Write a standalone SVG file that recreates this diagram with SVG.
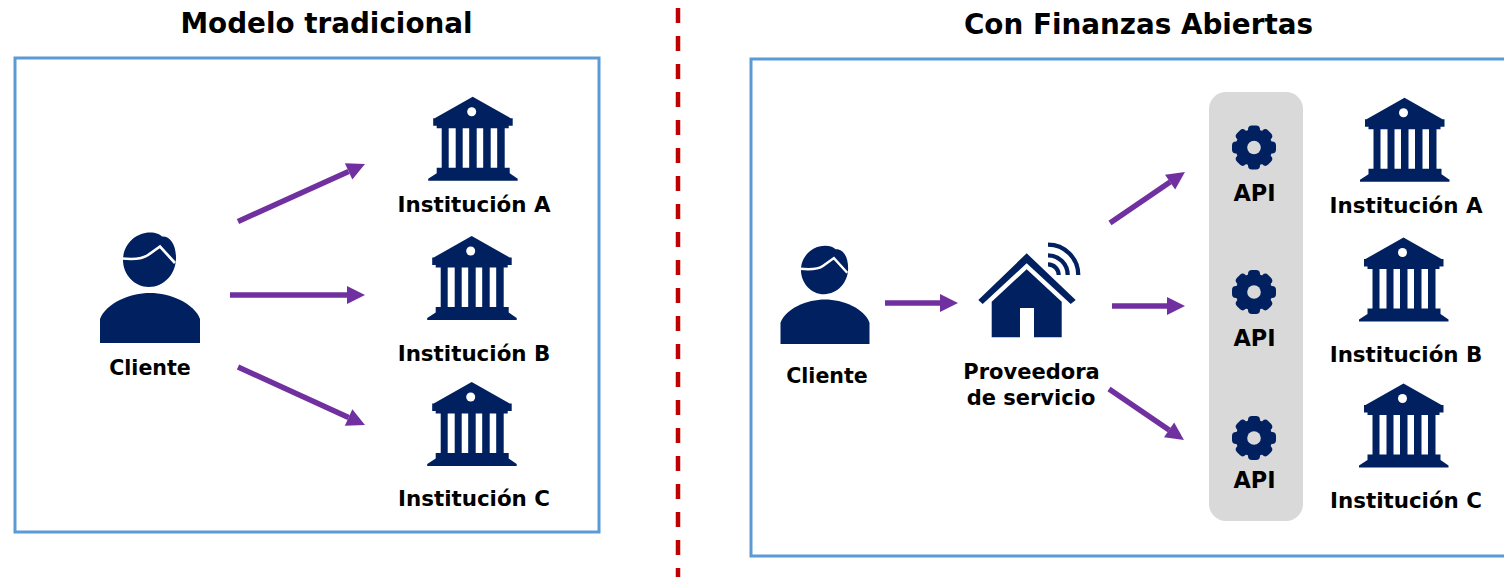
<svg xmlns="http://www.w3.org/2000/svg" width="1504" height="577" viewBox="0 0 1504 577">
<style>
.t{font-family:"DejaVu Sans",Verdana,sans-serif;font-weight:700;fill:#000;text-anchor:middle}
.title{font-size:27.8px}
.lab{font-size:21.4px}
.cli{font-size:20.6px}
.pro{font-size:21px}
.api{font-size:22.4px}
.frame{fill:#fff;stroke:#5b9bd5;stroke-width:3}
.ico{fill:#002060}
.arrow{fill:none;stroke:#7030a0;stroke-width:5.500;marker-end:url(#head)}
</style>
<defs>
<marker id="head" markerUnits="strokeWidth" markerWidth="3.270" markerHeight="3.270" refX="0" refY="1.635" orient="auto" overflow="visible"><path d="M0 0L3.270 1.635L0 3.270Z" fill="#7030a0"/></marker>
<g id="bank" class="ico">
<path fill-rule="evenodd" d="M0 0L38 21.500H40V29H36V31.500H32V71H37V76.500L45 82V84H-44.500V82L-36 76.500V71H-31V31.500H-36V29H-39.500V21.500H-38ZM-24 31.500V71H-17V31.500ZM-10 31.500V71H-3.500V31.500ZM4 31.500V71H10.500V31.500ZM18 31.500V71H24.500V31.500Z"/>
<circle cx="-1" cy="15" r="4.500" fill="#fff"/>
</g>
<g id="person">
<path class="ico" d="M100 343V319C106 303 130 293 150 293C170 293 194 303 200 319V343Z"/>
<path class="ico" d="M123 260C123 244 136 232.500 150 232.500C156 232.500 160 234.500 162 236.500C170 236 176 244 176 258C176 274 164 287 149 287C134 287 123 274 123 260Z"/>
<path d="M122 258.500C132 259.500 142 259.500 148 255L160 246.500L175 263" fill="none" stroke="#fff" stroke-width="2.700"/>
</g>
<g id="gear">
<circle class="ico" r="18.500"/>
<g class="ico">
<rect x="-6" y="-22" width="12" height="10" rx="4"/>
<rect x="-6" y="-22" width="12" height="10" rx="4" transform="rotate(45)"/>
<rect x="-6" y="-22" width="12" height="10" rx="4" transform="rotate(90)"/>
<rect x="-6" y="-22" width="12" height="10" rx="4" transform="rotate(135)"/>
<rect x="-6" y="-22" width="12" height="10" rx="4" transform="rotate(180)"/>
<rect x="-6" y="-22" width="12" height="10" rx="4" transform="rotate(225)"/>
<rect x="-6" y="-22" width="12" height="10" rx="4" transform="rotate(270)"/>
<rect x="-6" y="-22" width="12" height="10" rx="4" transform="rotate(315)"/>
</g>
<circle r="6.800" fill="#d9d9d9"/>
</g>
</defs>
<rect width="1504" height="577" fill="#fff"/>
<text class="t title" x="326.500" y="33">Modelo tradicional</text>
<text class="t title" x="1138.500" y="34">Con Finanzas Abiertas</text>
<line id="divider" x1="678" y1="8" x2="678" y2="577" stroke="#c00000" stroke-width="4.500" stroke-dasharray="15 13"/>
<rect id="panel-left" class="frame" x="15" y="58" width="584" height="474"/>
<rect id="panel-right" class="frame" x="751" y="59" width="770" height="497"/>
<rect id="api-band" x="1209" y="92" width="94" height="429" rx="17" fill="#d9d9d9"/>
<g id="connectors">
<line class="arrow" x1="238" y1="221.500" x2="348.600" y2="171.400"/>
<line class="arrow" x1="230" y1="295" x2="347" y2="295"/>
<line class="arrow" x1="238" y1="367" x2="348.600" y2="417.500"/>
<line class="arrow" x1="885" y1="303" x2="940" y2="303"/>
<line class="arrow" x1="1110" y1="223" x2="1170.100" y2="182.100"/>
<line class="arrow" x1="1112" y1="306" x2="1167" y2="306"/>
<line class="arrow" x1="1109" y1="389" x2="1169.100" y2="429.900"/>
</g>
<g id="left-cliente"><use href="#person"/><text class="t cli" x="150" y="375">Cliente</text></g>
<g id="left-inst-a"><use href="#bank" x="472.700" y="96.700"/><text class="t lab" x="474" y="212">Institución A</text></g>
<g id="left-inst-b"><use href="#bank" x="471.700" y="236"/><text class="t lab" x="474" y="361">Institución B</text></g>
<g id="left-inst-c"><use href="#bank" x="471.700" y="382"/><text class="t lab" x="474" y="506">Institución C</text></g>
<g id="right-cliente"><use href="#person" transform="translate(825 344) scale(.89) translate(-150 -343)"/><text class="t cli" x="827" y="383">Cliente</text></g>
<g id="proveedora">
<path class="ico" d="M1026.700 253.300L1075.700 300L1070.700 304L1026.700 263.300L982.700 304L978.300 300Z"/>
<path class="ico" fill-rule="evenodd" d="M1026.700 269.300L1061.700 301.700V337.300H1034V308H1020V337.300H991.700V301.700Z"/>
<g fill="none" stroke="#002060" stroke-width="4.200">
<path d="M1048 264.300A10.700 10.700 0 0 1 1058.700 275"/>
<path d="M1048 255.300A19.700 19.700 0 0 1 1067.700 275"/>
<path d="M1048 244.700A30.300 30.300 0 0 1 1078.300 275"/>
</g>
<text class="t pro"><tspan x="1031.500" y="379">Proveedora</tspan><tspan x="1031" y="405">de servicio</tspan></text>
</g>
<g id="api-a"><use href="#gear" x="1254" y="147.500"/><text class="t api" x="1254.500" y="201">API</text></g>
<g id="api-b"><use href="#gear" x="1254" y="292"/><text class="t api" x="1254.500" y="346">API</text></g>
<g id="api-c"><use href="#gear" x="1254" y="438"/><text class="t api" x="1254.500" y="488">API</text></g>
<g id="right-inst-a"><use href="#bank" x="1404.500" y="97.700"/><text class="t lab" x="1406" y="213">Institución A</text></g>
<g id="right-inst-b"><use href="#bank" x="1403.500" y="237.500"/><text class="t lab" x="1406" y="362">Institución B</text></g>
<g id="right-inst-c"><use href="#bank" x="1403.500" y="383.500"/><text class="t lab" x="1406" y="508">Institución C</text></g>
</svg>
